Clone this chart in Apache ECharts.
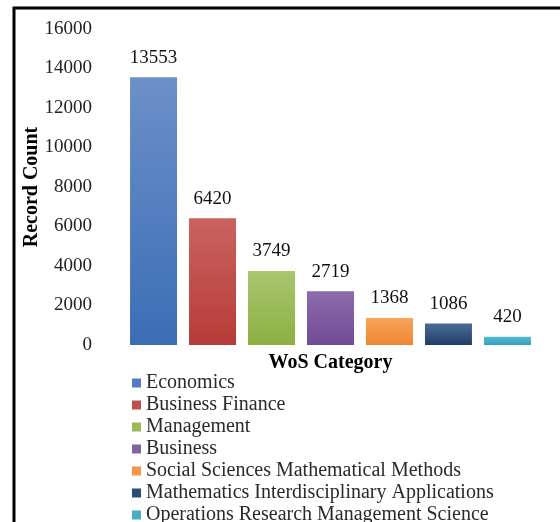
<!DOCTYPE html>
<html>
<head>
<meta charset="utf-8">
<script src="https://cdn.jsdelivr.net/npm/echarts@6/dist/echarts.min.js"></script>
<style>
  html, body { margin: 0; padding: 0; background: #fff; }
  #chart { width: 560px; height: 522px; }
</style>
</head>
<body>
<div id="chart"></div>
<script>
// WoS categories and their record counts
const categories = [
  'Economics',
  'Business Finance',
  'Management',
  'Business',
  'Social Sciences Mathematical Methods',
  'Mathematics Interdisciplinary Applications',
  'Operations Research Management Science'
];
const recordCounts = [13553, 6420, 3749, 2719, 1368, 1086, 420];

// Gradient stops per category: lighter at top, darker at bottom
const topColors = ['#6c90c9', '#ca6360', '#aac66f', '#8d6bab', '#f9a35b', '#4b6b94', '#5ab9d3'];
const bottomColors = ['#3b6db5', '#b73b38', '#8caf42', '#704b97', '#ee8631', '#203e69', '#33a0bf'];
const legendColors = ['#4f7fc0', '#c0504d', '#9bbb59', '#8064a2', '#f79646', '#2c4d75', '#4bacc6'];

const yTicks = { min: 0, max: 16000, interval: 2000 };

const serif = '"Liberation Serif", "Times New Roman", serif';

const series = categories.map((name, i) => ({
  name: name,
  type: 'bar',
  data: [recordCounts[i]],
  barWidth: 47,
  barGap: '25.5%',
  itemStyle: {
    color: {
      type: 'linear', x: 0, y: 0, x2: 0, y2: 1,
      colorStops: [
        { offset: 0, color: topColors[i] },
        { offset: 1, color: bottomColors[i] }
      ]
    }
  },
  label: {
    show: true,
    position: 'top',
    distance: 10,
    fontFamily: serif,
    fontSize: 19,
    color: '#111'
  }
}));

const chart = echarts.init(document.getElementById('chart'), null, { renderer: 'canvas' });
chart.setOption({
  animation: false,
  backgroundColor: '#fff',
  color: legendColors,
  grid: { left: 120, right: 19, top: 29, bottom: 177, containLabel: false },
  xAxis: {
    type: 'category',
    data: [''],
    axisLine: { show: false },
    axisTick: { show: false },
    axisLabel: { show: false },
    name: 'WoS Category',
    nameLocation: 'middle',
    nameGap: 8,
    nameMoveOverlap: false,
    nameTextStyle: { fontFamily: serif, fontSize: 20, fontWeight: 'bold', color: '#000' }
  },
  yAxis: {
    type: 'value',
    min: yTicks.min,
    max: yTicks.max,
    interval: yTicks.interval,
    axisLine: { show: false },
    axisTick: { show: false },
    splitLine: { show: false },
    axisLabel: {
      fontFamily: serif, fontSize: 19, color: '#222', margin: 28,
      formatter: (v) => String(v)
    },
    name: 'Record Count',
    nameLocation: 'middle',
    nameRotate: 90,
    nameGap: 78,
    nameMoveOverlap: false,
    nameTextStyle: { fontFamily: serif, fontSize: 20, fontWeight: 'bold', color: '#000' }
  },
  legend: {
    orient: 'vertical',
    left: 132,
    top: 373,
    height: 160,
    padding: [0, 0, 0, 0],
    itemWidth: 9,
    itemHeight: 9,
    itemGap: 2,
    icon: 'rect',
    textStyle: { fontFamily: serif, fontSize: 20, color: '#2a2a2a', lineHeight: 20 },
    data: categories.map((name, i) => ({ name: name, itemStyle: { color: legendColors[i] } }))
  },
  graphic: [
    {
      type: 'polyline',
      shape: { points: [[14, 522], [14, 8], [560, 8]] },
      style: { stroke: '#000', lineWidth: 3, fill: null }
    }
  ],
  series: series
});
</script>
</body>
</html>
